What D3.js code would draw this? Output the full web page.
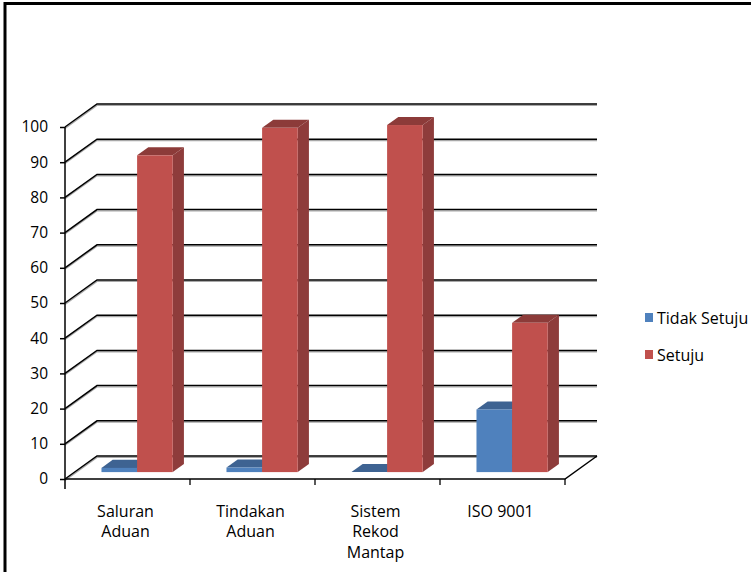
<!DOCTYPE html>
<html>
<head>
<meta charset="utf-8">
<script src="https://cdn.jsdelivr.net/npm/d3@7/dist/d3.min.js"></script>
<style>
  html, body { margin: 0; padding: 0; background: #fff; }
  svg { display: block; }
  text { font-family: "Open Sans", "Noto Sans", sans-serif; fill: #000; }
</style>
</head>
<body>
<svg id="chart" width="751" height="572"></svg>
<script>
// Survey results per aspect (percent)
const categories = [["Saluran", "Aduan"], ["Tindakan", "Aduan"], ["Sistem", "Rekod", "Mantap"], ["ISO 9001"]];
const seriesNames = ["Tidak Setuju", "Setuju"];
const tidakSetuju = [1.2, 1.3, 0, 17.8];
const setuju = [90, 97.8, 98.6, 42.4];
const yTicks = [0, 10, 20, 30, 40, 50, 60, 70, 80, 90, 100];

const seriesValues = [tidakSetuju, setuju];
const catKeys = categories.map(c => c.join(" "));

const frontColor = ["#4f81bd", "#c0504d"];
const topColor   = ["#3e6392", "#8c3b39"];
const sideColor  = ["#3a5d8a", "#8e3c3b"];

const svg = d3.select("#chart");

// Oblique depth projection of the 3-D plot box
const DEPTH_X = 32, DEPTH_Y = 23;
const proj = (x, y, t) => [x + DEPTH_X * t, y - DEPTH_Y * t];

const x = d3.scaleBand().domain(catKeys).range([65, 565]).paddingInner(0).paddingOuter(0);
const xc = d3.scaleBand().domain(catKeys).range([65, 565]).paddingInner(0.43).paddingOuter(0.215);
const xs = d3.scaleBand().domain(seriesNames).range([0, xc.bandwidth()]);
const y = d3.scaleLinear().domain([0, 100]).range([479, 127]);

// Outer frame
svg.append("path")
  .attr("d", "M5,572 L5,3.5 L751,3.5")
  .attr("fill", "none").attr("stroke", "#000").attr("stroke-width", 3);

const grid = svg.append("g");
// Gridlines on the left wall and back wall, with a soft shadow
yTicks.forEach(v => {
  const [bx, by] = proj(65, y(v), 1);
  const d = `M65,${y(v)} L${bx},${by} L${597},${by}`;
  grid.append("path").attr("d", d).attr("transform", "translate(0,1.4)")
    .attr("fill", "none").attr("stroke", "#a8a8a8").attr("stroke-width", 1.2);
  grid.append("path").attr("d", d)
    .attr("fill", "none").attr("stroke", "#000").attr("stroke-width", 1.5);
});

// Floor front and right edges
const [frx, fry] = proj(565, y(0), 1);
svg.append("path").attr("d", `M65,${y(0)} L565,${y(0)} L${frx},${fry}`)
  .attr("fill", "none").attr("stroke", "#000").attr("stroke-width", 1.5);

// Value axis
const yAxis = d3.axisLeft(y).tickValues(yTicks).tickSize(5).tickPadding(12);
const ya = svg.append("g").attr("transform", "translate(65,0)").call(yAxis);
ya.select(".domain").remove();
ya.selectAll(".tick line").attr("stroke", "#000").attr("stroke-width", 1.5);
ya.selectAll(".tick text").attr("font-size", 15.5).attr("font-family", "'Open Sans', sans-serif").attr("fill", "#000");
svg.append("line").attr("x1", 65).attr("x2", 65).attr("y1", y(100)).attr("y2", y(0) + 10)
  .attr("stroke", "#000").attr("stroke-width", 1.5);

// Category ticks at band boundaries
catKeys.forEach(k => {
  const xe = x(k) + x.bandwidth();
  svg.append("line").attr("x1", xe).attr("x2", xe).attr("y1", y(0)).attr("y2", y(0) + 6)
    .attr("stroke", "#000").attr("stroke-width", 1.3);
});

// 3-D columns
const T0 = 0.3, T1 = 0.65;
const bars = svg.append("g");
catKeys.forEach((k, ci) => {
  seriesNames.forEach((s, si) => {
    const v = seriesValues[si][ci];
    const x0 = xc(k) + xs(s), x1 = x0 + xs.bandwidth();
    const [ax, ay] = proj(x0, y(v), T0);
    const [bx, by] = proj(x1, y(v), T0);
    const [cx, cy] = proj(x1, y(v), T1);
    const [dx, dy] = proj(x0, y(v), T1);
    const [ex, ey] = proj(x1, y(0), T0);
    const [fx, fy] = proj(x1, y(0), T1);
    const g = bars.append("g");
    // side
    g.append("path").attr("d", `M${bx},${by} L${cx},${cy} L${fx},${fy} L${ex},${ey} Z`)
      .attr("fill", sideColor[si]);
    // top
    g.append("path").attr("d", `M${ax},${ay} L${bx},${by} L${cx},${cy} L${dx},${dy} Z`)
      .attr("fill", topColor[si]);
    // front
    g.append("rect").attr("x", ax).attr("y", ay).attr("width", x1 - x0).attr("height", ey - ay)
      .attr("fill", frontColor[si]);
  });
});

// Category labels
catKeys.forEach((k, ci) => {
  const t = svg.append("text").attr("text-anchor", "middle").attr("font-size", 16);
  categories[ci].forEach((line, li) => {
    t.append("tspan").attr("x", x(k) + x.bandwidth() / 2 - 2).attr("y", 516.5 + li * 20.5).text(line);
  });
});

// Legend
const legend = svg.append("g");
seriesNames.forEach((s, si) => {
  const ly = 313 + si * 37;
  legend.append("rect").attr("x", 645).attr("y", ly).attr("width", 8).attr("height", 9).attr("fill", frontColor[si]);
  legend.append("text").attr("x", 657).attr("y", ly + 11).attr("font-size", 16).text(s);
});
</script>
</body>
</html>
